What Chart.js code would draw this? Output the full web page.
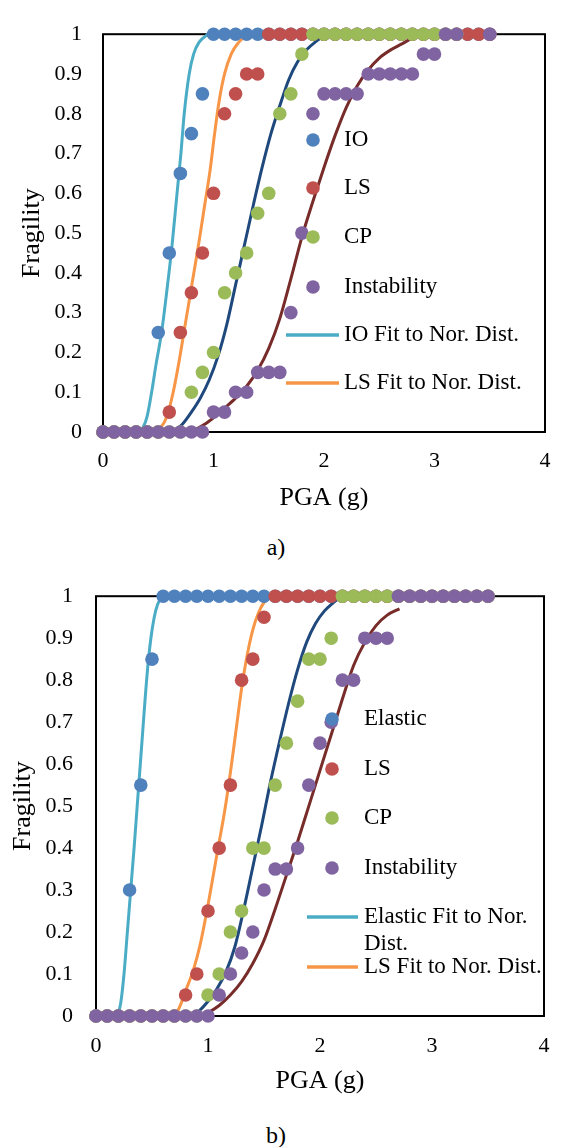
<!DOCTYPE html>
<html>
<head>
<meta charset="utf-8">
<script src="https://cdn.jsdelivr.net/npm/chart.js@4.4.0/dist/chart.umd.min.js"></script>
<style>
  html, body { margin: 0; padding: 0; background: #fff; }
  body { width: 567px; height: 1147px; position: relative; overflow: hidden;
         font-family: 'Liberation Serif', 'Times New Roman', serif; }
  canvas { position: absolute; left: 0; }
  #chart-a { top: 0; }
  #chart-b { top: 560px; }
  .caption { position: absolute; left: 256px; width: 40px; text-align: center;
             font-size: 24px; line-height: 24px; color: #000; }
</style>
</head>
<body>
<canvas id="chart-a" width="567" height="520"></canvas>
<canvas id="chart-b" width="567" height="540"></canvas>
<div class="caption" style="top:535px">a)</div>
<div class="caption" style="top:1123px">b)</div>

<script>
// PGA steps of the damage-state points (both panels)
const pga = [0, 0.1, 0.2, 0.3, 0.4, 0.5, 0.6, 0.7, 0.8, 0.9, 1.0, 1.1, 1.2, 1.3, 1.4, 1.5, 1.6, 1.7,
             1.8, 1.9, 2.0, 2.1, 2.2, 2.3, 2.4, 2.5, 2.6, 2.7, 2.8, 2.9, 3.0, 3.1, 3.2, 3.3, 3.4, 3.5];

// panel a) points
const ioA   = [0, 0, 0, 0, 0, 0.25, 0.45, 0.65, 0.75, 0.85, 1, 1, 1, 1, 1, 1, 1, 1,
               1, 1, 1, 1, 1, 1, 1, 1, 1, 1, 1, 1, 1, 1, 1, 1, 1, 1];
const lsA   = [0, 0, 0, 0, 0, 0, 0.05, 0.25, 0.35, 0.45, 0.6, 0.8, 0.85, 0.9, 0.9, 1, 1, 1,
               1, 1, 1, 1, 1, 1, 1, 1, 1, 1, 1, 1, 1, 1, 1, 1, 1, 1];
const cpA   = [0, 0, 0, 0, 0, 0, 0, 0, 0.1, 0.15, 0.2, 0.35, 0.4, 0.45, 0.55, 0.6, 0.8, 0.85,
               0.95, 1, 1, 1, 1, 1, 1, 1, 1, 1, 1, 1, 1, 1, 1, null, null, null];
const instA = [0, 0, 0, 0, 0, 0, 0, 0, 0, 0, 0.05, 0.05, 0.1, 0.1, 0.15, 0.15, 0.15, 0.3,
               0.5, 0.8, 0.85, 0.85, 0.85, 0.85, 0.9, 0.9, 0.9, 0.9, 0.9, 0.95, 0.95, 1, 1, null, null, 1];

// panel a) normal-distribution fits (read off the curves)
const ioFitAx   = [0.32, 0.36, 0.40, 0.44, 0.48, 0.53, 0.58, 0.625, 0.67, 0.705, 0.735, 0.78, 0.82, 0.87, 0.95];
const ioFitAy   = [0, 0.01, 0.04, 0.1, 0.17, 0.25, 0.36, 0.47, 0.6, 0.7, 0.8, 0.9, 0.95, 0.98, 1];
const lsFitAx   = [0.45, 0.52, 0.58, 0.635, 0.69, 0.75, 0.81, 0.87, 0.92, 0.97, 1.01, 1.05, 1.10, 1.16, 1.23, 1.31];
const lsFitAy   = [0, 0.01, 0.04, 0.1, 0.18, 0.28, 0.38, 0.48, 0.57, 0.66, 0.75, 0.83, 0.9, 0.95, 0.98, 1];
const cpFitAx   = [0.64, 0.72, 0.80, 0.88, 0.96, 1.04, 1.12, 1.20, 1.28, 1.36, 1.44, 1.52, 1.60, 1.68,
                   1.76, 1.84, 1.92, 2.0, 2.06];
const cpFitAy   = [0, 0.02, 0.05, 0.085, 0.13, 0.19, 0.27, 0.37, 0.47, 0.57, 0.665, 0.75, 0.82, 0.885,
                   0.93, 0.96, 0.98, 0.995, 1];
const instFitAx = [0.8, 0.95, 1.1, 1.2, 1.3, 1.4, 1.5, 1.6, 1.7, 1.8, 1.9, 2.0, 2.1, 2.2, 2.3, 2.4,
                   2.5, 2.6, 2.7, 2.8, 2.9];
const instFitAy = [0, 0.025, 0.06, 0.085, 0.115, 0.155, 0.21, 0.285, 0.385, 0.49, 0.58, 0.665, 0.745,
                   0.815, 0.87, 0.91, 0.94, 0.96, 0.975, 0.99, 1];

// panel b) points
const elB   = [0, 0, 0, 0.3, 0.55, 0.85, 1, 1, 1, 1, 1, 1, 1, 1, 1, 1, 1, 1,
               1, 1, 1, 1, 1, 1, 1, 1, 1, 1, 1, 1, 1, 1, 1, 1, 1, 1];
const lsB   = [0, 0, 0, 0, 0, 0, 0, 0, 0.05, 0.1, 0.25, 0.4, 0.55, 0.8, 0.85, 0.95, 1, 1,
               1, 1, 1, 1, 1, 1, 1, 1, 1, 1, 1, 1, 1, 1, 1, 1, 1, 1];
const cpB   = [0, 0, 0, 0, 0, 0, 0, 0, 0, 0, 0.05, 0.1, 0.2, 0.25, 0.4, 0.4, 0.55, 0.65,
               0.75, 0.85, 0.85, 0.9, 1, 1, 1, 1, 1, 1, 1, 1, 1, 1, 1, 1, 1, 1];
const instB = [0, 0, 0, 0, 0, 0, 0, 0, 0, 0, 0, 0.05, 0.1, 0.15, 0.2, 0.3, 0.35, 0.35,
               0.4, 0.55, 0.65, 0.7, 0.8, 0.8, 0.9, 0.9, 0.9, 1, 1, 1, 1, 1, 1, 1, 1, 1];

// panel b) fits
const elFitBx   = [0.19, 0.22, 0.25, 0.28, 0.31, 0.34, 0.365, 0.39, 0.415, 0.44, 0.465, 0.49, 0.52, 0.55, 0.59];
const elFitBy   = [0, 0.03, 0.1, 0.2, 0.3, 0.4, 0.49, 0.58, 0.67, 0.76, 0.84, 0.9, 0.95, 0.98, 1];
const lsFitBx   = [0.71, 0.76, 0.80, 0.87, 0.93, 0.99, 1.09, 1.15, 1.2, 1.25, 1.3, 1.35, 1.4, 1.45, 1.5, 1.57];
const lsFitBy   = [0, 0.03, 0.06, 0.11, 0.17, 0.25, 0.4, 0.49, 0.58, 0.68, 0.78, 0.86, 0.92, 0.96, 0.985, 1];
const cpFitBx   = [0.84, 0.92, 1.0, 1.08, 1.16, 1.24, 1.32, 1.40, 1.48, 1.56, 1.64, 1.72, 1.80, 1.88,
                   1.96, 2.04, 2.12, 2.19];
const cpFitBy   = [0, 0.012, 0.035, 0.065, 0.105, 0.165, 0.255, 0.355, 0.455, 0.56, 0.655, 0.745, 0.825,
                   0.89, 0.935, 0.965, 0.985, 1];
const instFitBx = [0.93, 1.0, 1.1, 1.2, 1.3, 1.4, 1.5, 1.6, 1.7, 1.8, 1.9, 2.0, 2.1, 2.2, 2.3, 2.4,
                   2.5, 2.6, 2.71];
const instFitBy = [0, 0.008, 0.025, 0.05, 0.082, 0.125, 0.18, 0.255, 0.335, 0.415, 0.5, 0.585, 0.67,
                   0.755, 0.835, 0.89, 0.93, 0.955, 0.97];

const xTickValues = [0, 1, 2, 3, 4];
const yTickValues = [0, 0.1, 0.2, 0.3, 0.4, 0.5, 0.6, 0.7, 0.8, 0.9, 1];
const yTickLabels = ['0', '0.1', '0.2', '0.3', '0.4', '0.5', '0.6', '0.7', '0.8', '0.9', '1'];

const COLORS = {
  blue:   '#4F81BD',
  red:    '#C0504D',
  green:  '#9BBB59',
  purple: '#8064A2',
  cyan:   '#4BACC6',
  orange: '#F79646',
  navy:   '#1F497D',
  maroon: '#772C2A',
};
const FONT = "'Liberation Serif', 'Times New Roman', serif";
const DOT = 6.8;

function pts(xs, ys) {
  return xs.map((x, i) => ({ x, y: ys[i] })).filter(p => p.y !== null);
}

function dots(label, ys, color, order) {
  return {
    label, data: pts(pga, ys), backgroundColor: color, borderWidth: 0,
    pointRadius: DOT, pointHoverRadius: DOT, order, clip: false,
  };
}

function fit(label, xs, ys, color) {
  return {
    label, data: pts(xs, ys), showLine: true, borderColor: color, backgroundColor: color,
    borderWidth: 3, pointRadius: 0, cubicInterpolationMode: 'monotone', order: 10, clip: false,
  };
}

// black box round the plot area, under the marks
const framePlugin = {
  id: 'frame',
  beforeDatasetsDraw(chart) {
    const { ctx, chartArea: a } = chart;
    ctx.save();
    ctx.strokeStyle = '#000';
    ctx.lineWidth = 2;
    ctx.strokeRect(a.left, a.top, a.right - a.left, a.bottom - a.top);
    ctx.restore();
  },
};

// Excel-style legend sitting inside the plot (only the first six entries show)
const legendPlugin = {
  id: 'plotLegend',
  afterDraw(chart, args, opts) {
    const ctx = chart.ctx;
    ctx.save();
    ctx.font = `23px ${FONT}`;
    ctx.textBaseline = 'middle';
    ctx.textAlign = 'left';
    opts.items.forEach(it => {
      const ds = chart.data.datasets[it.index];
      if (ds.showLine) {
        ctx.strokeStyle = ds.borderColor;
        ctx.lineWidth = 3.5;
        ctx.beginPath();
        ctx.moveTo(opts.lineX0, it.y);
        ctx.lineTo(opts.lineX1, it.y);
        ctx.stroke();
      } else {
        ctx.fillStyle = ds.backgroundColor;
        ctx.beginPath();
        ctx.arc(opts.markerX, it.y, DOT, 0, Math.PI * 2);
        ctx.fill();
      }
      ctx.fillStyle = '#000';
      (it.text || [ds.label]).forEach((t, k) => ctx.fillText(t, opts.textX, it.y + k * 27));
    });
    ctx.restore();
  },
};

function makeChart(id, datasets, L, legend) {
  return new Chart(document.getElementById(id), {
    type: 'scatter',
    data: { datasets },
    plugins: [framePlugin, legendPlugin],
    options: {
      responsive: false,
      animation: false,
      events: [],
      layout: { padding: { left: 0, top: L.top, right: L.right, bottom: 0 } },
      plugins: { legend: { display: false }, tooltip: { enabled: false }, plotLegend: legend },
      scales: {
        x: {
          type: 'linear', min: 0, max: 4,
          afterBuildTicks: s => { s.ticks = xTickValues.map(v => ({ value: v })); },
          afterFit: s => { s.height = L.xH; },
          ticks: { color: '#000', font: { family: FONT, size: 22 }, padding: L.xTickPad,
                   maxRotation: 0, autoSkip: false, callback: v => String(v) },
          grid: { display: false, drawTicks: false },
          border: { display: false },
          title: { display: true, text: 'PGA (g)', color: '#000', font: { family: FONT, size: 26 },
                   padding: { top: 0, bottom: L.xTitlePad } },
        },
        y: {
          type: 'linear', min: 0, max: 1,
          afterBuildTicks: s => { s.ticks = yTickValues.map(v => ({ value: v })); },
          afterFit: s => { s.width = L.yW; },
          ticks: { color: '#000', font: { family: FONT, size: 22 }, padding: L.yTickPad,
                   autoSkip: false, callback: (v, i) => yTickLabels[i] },
          grid: { display: false, drawTicks: false },
          border: { display: false },
          title: { display: true, text: 'Fragility', color: '#000', font: { family: FONT, size: 26 },
                   padding: { top: L.yTitlePad, bottom: 0 } },
        },
      },
    },
  });
}

makeChart('chart-a', [
  dots('IO', ioA, COLORS.blue, 4),
  dots('LS', lsA, COLORS.red, 3),
  dots('CP', cpA, COLORS.green, 2),
  dots('Instability', instA, COLORS.purple, 1),
  fit('IO Fit to Nor. Dist.', ioFitAx, ioFitAy, COLORS.cyan),
  fit('LS Fit to Nor. Dist.', lsFitAx, lsFitAy, COLORS.orange),
  fit('CP Fit to Nor. Dist.', cpFitAx, cpFitAy, COLORS.navy),
  fit('Instability Fit to Nor. Dist.', instFitAx, instFitAy, COLORS.maroon),
], { top: 23, right: 22, yW: 103, xH: 88, xTickPad: 16, yTickPad: 21, xTitlePad: 6.4, yTitlePad: 16.4 }, {
  markerX: 313, lineX0: 286, lineX1: 339, textX: 344,
  items: [
    { index: 0, y: 140 }, { index: 1, y: 188 }, { index: 2, y: 237 },
    { index: 3, y: 287 }, { index: 4, y: 335 }, { index: 5, y: 383 },
  ],
});

makeChart('chart-b', [
  dots('Elastic', elB, COLORS.blue, 4),
  dots('LS', lsB, COLORS.red, 3),
  dots('CP', cpB, COLORS.green, 2),
  dots('Instability', instB, COLORS.purple, 1),
  fit('Elastic Fit to Nor. Dist.', elFitBx, elFitBy, COLORS.cyan),
  fit('LS Fit to Nor. Dist.', lsFitBx, lsFitBy, COLORS.orange),
  fit('CP Fit to Nor. Dist.', cpFitBx, cpFitBy, COLORS.navy),
  fit('Instability Fit to Nor. Dist.', instFitBx, instFitBy, COLORS.maroon),
], { top: 27, right: 8, yW: 96, xH: 84, xTickPad: 17.5, yTickPad: 23, xTitlePad: 3.4, yTitlePad: 7.4 }, {
  markerX: 332, lineX0: 307, lineX1: 358, textX: 364,
  items: [
    { index: 0, y: 159 }, { index: 1, y: 209 }, { index: 2, y: 258 },
    { index: 3, y: 308 }, { index: 4, y: 357, text: ['Elastic Fit to Nor.', 'Dist.'] },
    { index: 5, y: 407 },
  ],
});
</script>
</body>
</html>
